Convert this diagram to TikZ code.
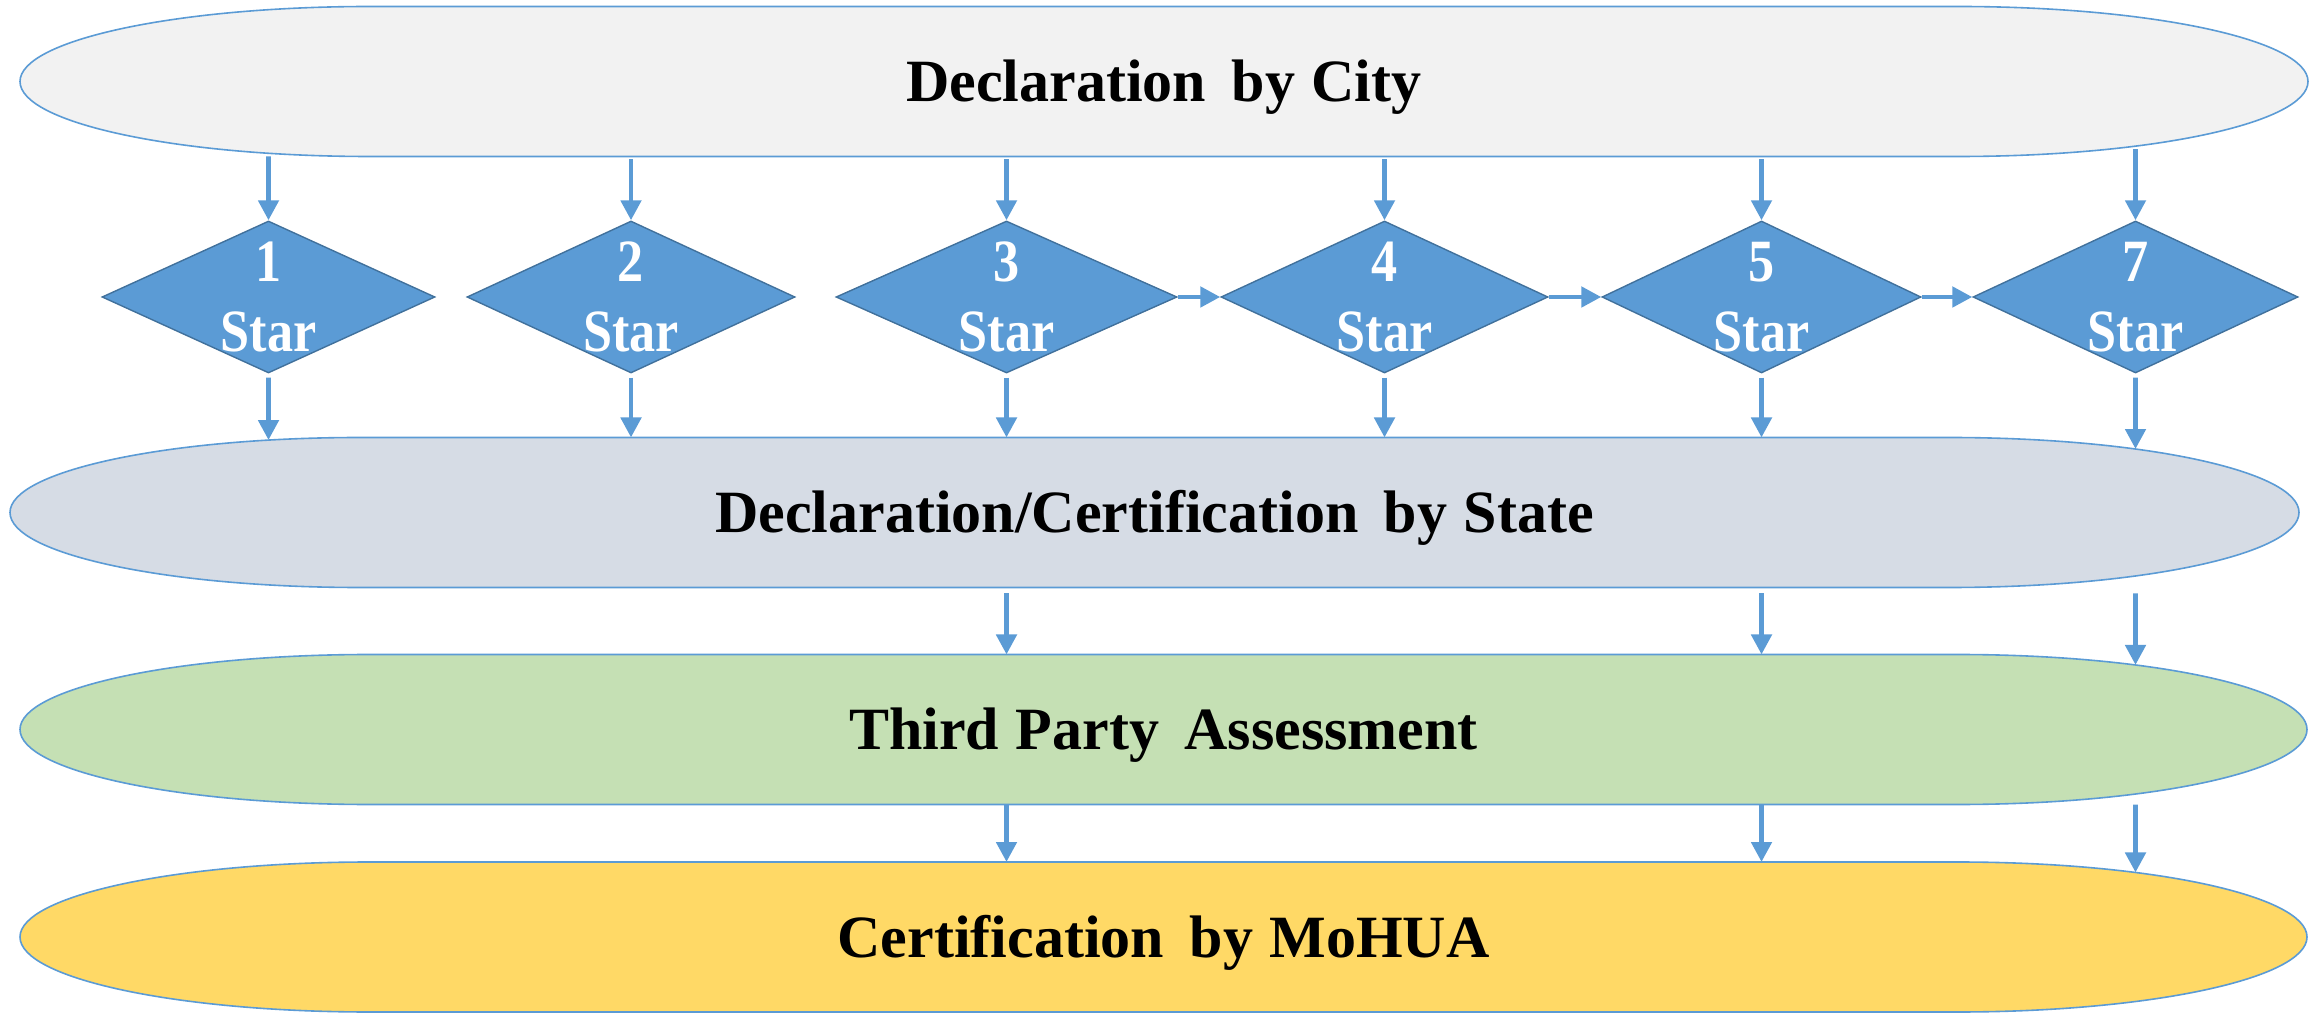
\documentclass[tikz,border=0pt]{standalone}
\usepackage{fontspec}
\setmainfont{Liberation Serif}[WordSpace=1.1]
\newfontfamily\starfont{Liberation Serif}[FakeStretch=0.87]
\usetikzlibrary{shapes.geometric, arrows.meta, intersections, calc}

\definecolor{flowblue}{HTML}{5B9BD5}
\definecolor{stardark}{HTML}{41719C}
\definecolor{cityfill}{HTML}{F2F2F2}
\definecolor{statefill}{HTML}{D6DCE5}
\definecolor{tpafill}{HTML}{C5E0B4}
\definecolor{mohuafill}{HTML}{FFD966}

\tikzset{
  stageline/.style={draw=flowblue, line width=0.8pt},
  stagetext/.style={font=\bfseries\fontsize{30}{35}\selectfont, inner sep=0pt,
                    text height=20pt, text depth=0pt},
  starbox/.style={diamond, draw=stardark, fill=flowblue, line width=0.7pt,
                  inner sep=0pt, minimum height=76pt},
  startext/.style={text=white, align=center, inner sep=0pt,
                   font=\starfont\bfseries\fontsize{30}{35}\selectfont},
  flow/.style={draw=flowblue, line width=2.4pt, -{Triangle[length=10pt,width=10pt]}},
}

% band with half-elliptic ends: name, centre x, centre y, half width, fill, label
\newcommand{\stageband}[6]{%
  \path[stageline, fill=#5, name path global=#1-rim]
    ({#2-#4+350},{#3+75}) -- ({#2+#4-350},{#3+75})
    arc[start angle=90, end angle=-90, x radius=175pt, y radius=37.5pt]
    -- ({#2-#4+350},{#3-75})
    arc[start angle=270, end angle=90, x radius=175pt, y radius=37.5pt] -- cycle;
  \coordinate (#1-south) at (#2,{#3-75});
  \node[stagetext] (#1) at (#2,#3) {#6};
}

% where the column of star level #1 crosses band #2 between heights #3 and #4
\newcommand{\colhit}[5]{%
  \path[name path global=probe] (s#1.center |- 0,#3) -- (s#1.center |- 0,#4);
  \path[name intersections={of=probe and #2-rim, by={#5}}];
}

\begin{document}
\begin{tikzpicture}[x=0.5pt, y=0.5pt]
\useasboundingbox (0,0) rectangle (2318,1013);

% the four stages
\stageband{city}{1164}{931.5}{1144}{cityfill}{Declaration\hspace{4.5pt} by City}
\stageband{state}{1154.5}{500.5}{1144.5}{statefill}{Declaration/Certification\hspace{4.5pt} by State}
\stageband{tpa}{1163.5}{283.5}{1143.5}{tpafill}{Third Party\hspace{4.5pt} Assessment}
\stageband{mohua}{1163.5}{76}{1143.5}{mohuafill}{Certification\hspace{4.5pt} by MoHUA}

% star levels
\node[starbox, minimum width=166.5pt] (s1) at (268.5,716) {};
\node[starbox, minimum width=164pt]   (s2) at (631,716) {};
\node[starbox, minimum width=170.5pt] (s3) at (1006.5,716) {};
\node[starbox, minimum width=163.5pt] (s4) at (1384.5,716) {};
\node[starbox, minimum width=159.5pt] (s5) at (1761.5,716) {};
\node[starbox, minimum width=162.5pt] (s7) at (2135.5,716) {};
\foreach \k in {1,2,3,4,5,7}{
  \node[startext] (s\k t) at (s\k) {\k\\Star};
}

% band edges above and below each star level
\foreach \k in {1,2,3,4,5,7}{
  \colhit{\k}{city}{716}{931.5}{city-\k-bot}
  \colhit{\k}{state}{716}{500.5}{state-\k-top}
}
\foreach \k in {3,5,7}{
  \colhit{\k}{tpa}{500.5}{283.5}{tpa-\k-top}
  \colhit{\k}{mohua}{283.5}{76}{mohua-\k-top}
}

% city declaration to each star level, and on to the state
\foreach \k in {1,2,3,4,5,7}{
  \draw[flow] ([yshift=-1.5pt]city-\k-bot) -- (s\k.north);
  \draw[flow] ([yshift=-2pt]s\k.south) -- (state-\k-top);
}

% progression between the higher star levels
\draw[flow] (s3.east) -- (s4.west);
\draw[flow] (s4.east) -- (s5.west);
\draw[flow] (s5.east) -- (s7.west);

% further verification for 3, 5 and 7 star
\foreach \k in {3,5,7}{
  \draw[flow] ([yshift=-3pt]s\k.center |- state-south) -- (tpa-\k-top);
  \draw[flow] (s\k.center |- tpa-south) -- (mohua-\k-top);
}
\end{tikzpicture}
\end{document}
